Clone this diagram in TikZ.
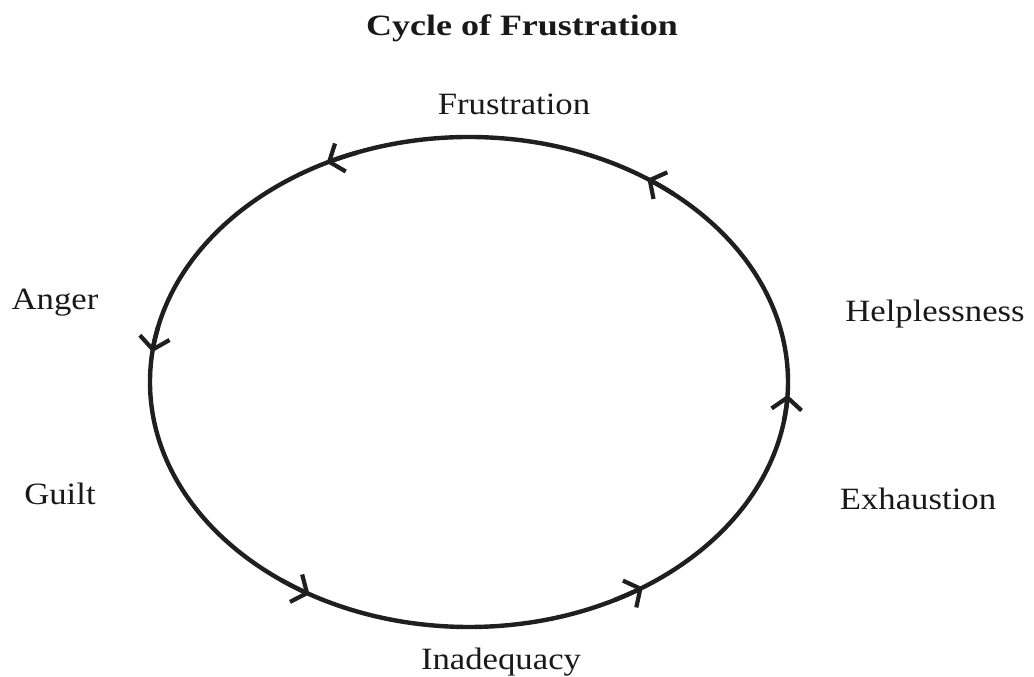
\documentclass[tikz,border=0pt]{standalone}
\usepackage{fontspec}
\setmainfont{Liberation Serif}
\usetikzlibrary{arrows.meta,calc}
\begin{document}
\begin{tikzpicture}[x=1pt,y=1pt,
  cyc/.style={line width=4.4pt, draw=black!88},
  tipstyle/.style={-{Straight Barb[length=12pt,width=30pt,line width=4.2pt]}},
  lbl/.style={anchor=base, inner sep=0pt, text=black!90, xscale=1.12, font=\fontsize{31}{36}\selectfont},
  ttl/.style={anchor=base, inner sep=0pt, text=black!90, xscale=1.22, font=\bfseries\fontsize{29.5}{34}\selectfont}]
\useasboundingbox (0,0) rectangle (1034,677);
\node[ttl] (title) at (522,641) {Cycle of Frustration};
\node[lbl] (frus) at (514,562) {Frustration};
\node[lbl] (anger) at (55,367) {Anger};
\node[lbl] (help) at (935,355) {Helplessness};
\node[lbl] (guilt) at (60,172) {Guilt};
\node[lbl] (exh) at (918,167) {Exhaustion};
\node[lbl] (inad) at (501,7) {Inadequacy};
\coordinate (O) at (469,295);
\draw[cyc] (O) ellipse[x radius=319, y radius=245];
\foreach \t in {56,116.5,173,240,303,357}
  \draw[cyc,tipstyle] ($(O)+({319*cos(\t-6)},{245*sin(\t-6)})$) arc[start angle=\t-6, end angle=\t, x radius=319, y radius=245];
\end{tikzpicture}
\end{document}
